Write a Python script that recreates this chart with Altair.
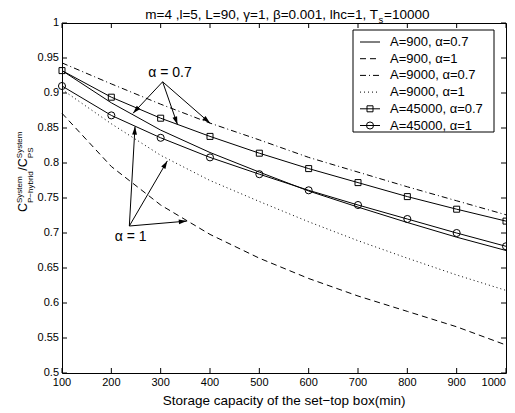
import math
import altair as alt
import pandas as pd

# ---------------- data ----------------
x_vals = [100, 200, 300, 400, 500, 600, 700, 800, 900, 1000]
a900_a07 = [0.932, 0.886, 0.847, 0.815, 0.787, 0.760, 0.737, 0.715, 0.694, 0.675]
a900_a1 = [0.871, 0.795, 0.740, 0.698, 0.664, 0.635, 0.610, 0.588, 0.566, 0.540]
a9000_a07 = [0.943, 0.913, 0.884, 0.857, 0.833, 0.808, 0.787, 0.766, 0.746, 0.726]
a9000_a1 = [0.905, 0.856, 0.811, 0.775, 0.745, 0.716, 0.689, 0.664, 0.640, 0.618]
a45000_a07 = [0.932, 0.894, 0.864, 0.838, 0.814, 0.792, 0.772, 0.752, 0.734, 0.717]
a45000_a1 = [0.910, 0.868, 0.836, 0.808, 0.784, 0.761, 0.740, 0.720, 0.700, 0.681]

series_names = ["A=900, α=0.7", "A=900, α=1", "A=9000, α=0.7",
                "A=9000, α=1", "A=45000, α=0.7", "A=45000, α=1"]
series_values = [a900_a07, a900_a1, a9000_a07, a9000_a1, a45000_a07, a45000_a1]

x_ticks = [100, 200, 300, 400, 500, 600, 700, 800, 900, 1000]
y_ticks = [0.5, 0.55, 0.6, 0.65, 0.7, 0.75, 0.8, 0.85, 0.9, 0.95, 1.0]

title_main = "m=4 ,l=5, L=90, γ=1, β=0.001, lhc=1, T"
title_sub = "s"
title_end = "=10000"
x_title = "Storage capacity of the set−top box(min)"

# annotation arrows (data units)
ann07_text = "α = 0.7"
ann07_pos = (319, 0.929)
ann07_origin = (304, 0.916)
ann07_tips = [(244, 0.871), (334, 0.855), (400, 0.857)]
ann1_text = "α = 1"
ann1_pos = (239, 0.694)
ann1_origin = (236.5, 0.710)
ann1_tips = [(248, 0.852), (313.5, 0.803), (353, 0.717)]

# ---------------- layout ----------------
W, H = 444, 350
XMIN, XMAX = 100, 1000
YMIN, YMAX = 0.5, 1.0
FONT = "Liberation Sans"

xs = alt.Scale(domain=[XMIN, XMAX], nice=False, zero=False)
ys = alt.Scale(domain=[YMIN, YMAX], nice=False, zero=False)

def X(f):
    return alt.X(f, scale=xs, axis=None)

def Y(f):
    return alt.Y(f, scale=ys, axis=None)

styles = [
    dict(dash=None, shape=None),
    dict(dash=[6, 4], shape=None),
    dict(dash=[6, 3, 1, 3], shape=None),
    dict(dash=[1, 3], shape=None),
    dict(dash=None, shape="square"),
    dict(dash=None, shape="circle"),
]
marker_size = {"square": 36, "circle": 50}

one = alt.Data(values=[{}])
layers = []

for i, (name, vals, st) in enumerate(zip(series_names, series_values, styles)):
    df = pd.DataFrame({"x": x_vals, "y": vals})
    kw = dict(color="black", strokeWidth=1)
    if st["dash"]:
        kw["strokeDash"] = st["dash"]
    layers.append(alt.Chart(df).mark_line(**kw).encode(x=X("x:Q"), y=Y("y:Q")))
    if st["shape"]:
        layers.append(
            alt.Chart(df).mark_point(shape=st["shape"], filled=False, color="black",
                                     strokeWidth=1, size=marker_size[st["shape"]], opacity=1)
            .encode(x=X("x:Q"), y=Y("y:Q"))
        )

# inward ticks
xt = pd.DataFrame({"t": x_ticks, "lab": [f"{v:g}" for v in x_ticks]})
yt = pd.DataFrame({"t": y_ticks, "lab": [f"{v:g}" for v in y_ticks]})
TL = 5
for (a, b) in [(H, H - TL), (0, TL)]:
    layers.append(alt.Chart(xt).mark_rule(color="black", strokeWidth=1).encode(
        x=X("t:Q"), y=alt.value(a), y2=alt.value(b)))
for (a, b) in [(0, TL), (W - TL, W)]:
    layers.append(alt.Chart(yt).mark_rule(color="black", strokeWidth=1).encode(
        y=Y("t:Q"), x=alt.value(a), x2=alt.value(b)))

# tick labels (last x label kept inside the page edge)
layers.append(alt.Chart(xt.iloc[:-1]).mark_text(font=FONT, fontSize=11, color="black",
                                                align="center", baseline="middle").encode(
    x=X("t:Q"), y=alt.value(H + 10), text="lab:N"))
layers.append(alt.Chart(xt.iloc[-1:]).mark_text(font=FONT, fontSize=11, color="black",
                                                align="right", baseline="middle", dx=0).encode(
    x=X("t:Q"), y=alt.value(H + 10), text="lab:N"))
layers.append(alt.Chart(yt).mark_text(font=FONT, fontSize=11, color="black",
                                      align="right", baseline="middle").encode(
    y=Y("t:Q"), x=alt.value(-3), text="lab:N"))

# annotation arrows
ARROW = "M0,0L-0.3,1L0.3,1Z"
def arrows(origin, tips):
    rows = []
    for (tx, ty) in tips:
        dx = (tx - origin[0]) * W / (XMAX - XMIN)
        dy = -(ty - origin[1]) * H / (YMAX - YMIN)
        ang = math.degrees(math.atan2(dx, -dy)) % 360
        rows.append({"ox": origin[0], "oy": origin[1], "tx": tx, "ty": ty, "ang": ang})
    return pd.DataFrame(rows)

for origin, tips, txt, pos in [(ann07_origin, ann07_tips, ann07_text, ann07_pos),
                               (ann1_origin, ann1_tips, ann1_text, ann1_pos)]:
    adf = arrows(origin, tips)
    layers.append(alt.Chart(adf).mark_rule(color="black", strokeWidth=1).encode(
        x=X("ox:Q"), y=Y("oy:Q"), x2="tx:Q", y2="ty:Q"))
    layers.append(alt.Chart(adf).mark_point(shape=ARROW, filled=True, color="black",
                                            size=256, opacity=1, strokeWidth=0).encode(
        x=X("tx:Q"), y=Y("ty:Q"), angle=alt.Angle("ang:Q", scale=None)))
    tdf = pd.DataFrame({"x": [pos[0]], "y": [pos[1]], "t": [txt]})
    layers.append(alt.Chart(tdf).mark_text(font=FONT, fontSize=14, color="black",
                                           align="center", baseline="middle").encode(
        x=X("x:Q"), y=Y("y:Q"), text="t:N"))

# legend (manual)
LX0, LX1, LY0, LY1 = 291, 432, 7, 109
layers.append(alt.Chart(one).mark_rect(fill="white", stroke="black", strokeWidth=1).encode(
    x=alt.value(LX0), x2=alt.value(LX1), y=alt.value(LY0), y2=alt.value(LY1)))
for i, (name, st) in enumerate(zip(series_names, styles)):
    yy = 19 + 16.7 * i
    kw = dict(color="black", strokeWidth=1)
    if st["dash"]:
        kw["strokeDash"] = st["dash"]
    layers.append(alt.Chart(one).mark_rule(**kw).encode(
        x=alt.value(298), x2=alt.value(318), y=alt.value(yy)))
    if st["shape"]:
        layers.append(alt.Chart(one).mark_point(shape=st["shape"], filled=False, color="black",
                                                strokeWidth=1, size=marker_size[st["shape"]],
                                                opacity=1).encode(
            x=alt.value(308), y=alt.value(yy)))
    layers.append(alt.Chart(one).mark_text(text=name, font=FONT, fontSize=13, color="black",
                                           align="left", baseline="middle").encode(
        x=alt.value(328), y=alt.value(yy)))

# title (with subscript)
layers.append(alt.Chart(one).mark_text(text=title_main, font=FONT, fontSize=13.5, color="black",
                                       align="right", baseline="alphabetic").encode(
    x=alt.value(316), y=alt.value(-4)))
layers.append(alt.Chart(one).mark_text(text=title_sub, font=FONT, fontSize=9.5, color="black",
                                       align="left", baseline="alphabetic").encode(
    x=alt.value(316.5), y=alt.value(0)))
layers.append(alt.Chart(one).mark_text(text=title_end, font=FONT, fontSize=13.5, color="black",
                                       align="left", baseline="alphabetic").encode(
    x=alt.value(322), y=alt.value(-4)))

# x axis title
layers.append(alt.Chart(one).mark_text(text=x_title, font=FONT, fontSize=13.5, color="black",
                                       align="center", baseline="alphabetic").encode(
    x=alt.value(W / 2), y=alt.value(382)))

# y axis title: C^System_{P−hybrid} / C^System_{PS}, rotated
ylab = [
    ("C", 12.5, -35, 189),
    ("System", 8, -40, 180),
    ("P−hybrid", 8, -29, 180),
    ("/", 12.5, -35, 147.7),
    ("C", 12.5, -35, 144.2),
    ("System", 8, -40, 135.2),
    ("PS", 8, -29, 135.2),
]
for txt, fs, px, py in ylab:
    layers.append(alt.Chart(one).mark_text(text=txt, font=FONT, fontSize=fs, color="black",
                                           angle=270, align="left", baseline="alphabetic").encode(
        x=alt.value(px), y=alt.value(py)))

chart = alt.layer(*layers).properties(
    width=W, height=H,
    autosize=alt.AutoSizeParams(type="none"),
    padding={"left": 54, "top": 15, "right": 1, "bottom": 36},
    background="white",
).configure_view(stroke="black", strokeWidth=1)

chart.save("out.html", embed_options={"renderer": "svg", "actions": False})
